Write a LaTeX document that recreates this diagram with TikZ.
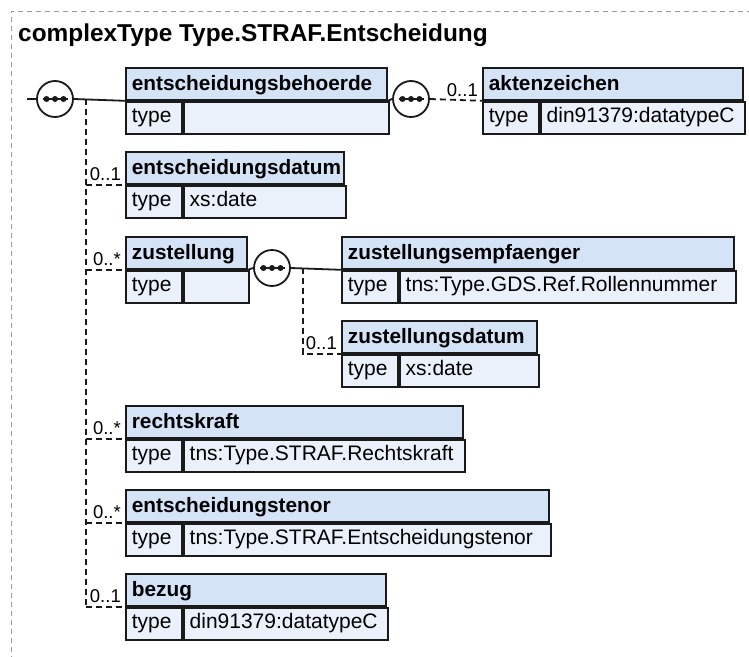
\documentclass[tikz,border=0pt]{standalone}
\usepackage{fontspec}
\setmainfont{Liberation Sans}
\definecolor{hdrblue}{HTML}{D5E3F7}
\definecolor{typblue}{HTML}{EAF1FB}
\definecolor{edge}{HTML}{1A1A1A}
\definecolor{framegray}{HTML}{9A9A9A}
\tikzset{
  hdr/.style={draw=edge, fill=hdrblue, line width=1.8pt, anchor=north west,
    inner xsep=6pt, inner ysep=0pt, text height=17pt, text depth=4pt,
    minimum height=32pt, align=left, font=\fontsize{20.8}{25}\selectfont\bfseries},
  typ/.style={draw=edge, fill=typblue, line width=1.8pt, anchor=north west,
    inner xsep=6pt, inner ysep=0pt, text height=14.5pt, text depth=5.5pt,
    minimum height=32pt, align=left, font=\fontsize{21}{25}\selectfont},
  seq/.style={draw=edge, fill=white, circle, line width=1.8pt, minimum size=36pt, inner sep=0pt},
  conn/.style={draw=edge, line width=1.8pt},
  dconn/.style={draw=edge, line width=1.8pt, dash pattern=on 6pt off 4pt},
  lbl/.style={anchor=base east, inner sep=0pt, font=\fontsize{18.5}{22}\selectfont},
  frameline/.style={draw=framegray, line width=1pt, dash pattern=on 5pt off 4pt},
  titlestyle/.style={anchor=base west, inner sep=0pt, font=\fontsize{24.4}{28}\selectfont\bfseries}
}
\newcommand\elbox[6]{%
  \pgfmathsetmacro\myWa{#4-12}%
  \pgfmathsetmacro\myWb{#4-68}%
  \node[hdr, text width=\myWa pt] (#1) at (#2,#3) {#5};
  \node[typ, text width=44pt] (#1t) at (#1.south west) {type};
  \node[typ, text width=\myWb pt] (#1v) at (#1t.north east) {#6};
}
\newcommand\seqdots[1]{%
  \draw[edge, line width=1.6pt] ([xshift=-12.5pt]#1.center) -- ([xshift=12.5pt]#1.center);
  \foreach \dd in {-8.5,0,8.5} \fill[edge] ([xshift=\dd pt]#1.center) circle (3pt);
}
\begin{document}
\begin{tikzpicture}[x=1pt,y=-1pt]
\useasboundingbox (0,0) rectangle (749,656);
\draw[frameline] (11,670) -- (11,11) -- (760,11);
\node[titlestyle] (title) at (18,41) {complexType Type.STRAF.Entscheidung};

\elbox{b1}{125}{67}{261}{entscheidungsbehoerde}{}
\elbox{b2}{482}{67}{260}{aktenzeichen}{din91379:datatypeC}
\elbox{b3}{125}{151}{218}{entscheidungsdatum}{xs:date}
\elbox{b4}{125}{236}{121}{zustellung}{}
\elbox{b5}{341}{236}{392}{zustellungsempfaenger}{tns:Type.GDS.Ref.Rollennummer}
\elbox{b6}{341}{320}{195}{zustellungsdatum}{xs:date}
\elbox{b7}{125}{405}{337}{rechtskraft}{tns:Type.STRAF.Rechtskraft}
\elbox{b8}{125}{489}{423}{entscheidungstenor}{tns:Type.STRAF.Entscheidungstenor}
\elbox{b9}{125}{573}{260}{bezug}{din91379:datatypeC}

\node[seq] (c0) at (55,99) {};
\node[seq] (c1) at (411,99) {};
\node[seq] (c2) at (272,268) {};

\coordinate (s0) at (27,99);
\coordinate (v0) at (86,99);
\coordinate (v1) at (303,268);

% solid connectors
\draw[conn] (s0) -- (c0.west);
\draw[conn] (c0.east) -- (b1.south west);
\draw[conn] (b1.south east) -- (c1.west);
\draw[conn] (b4.south east) -- (c2.west);
\draw[conn] (c2.east) -- (b5.south west);

% dashed connectors
\draw[dconn] (c1.east) -- (b2.south west);
\draw[dconn] (v0) -- (v0 |- b9.south west);
\foreach \b in {b3,b4,b7,b8,b9}
  \draw[dconn] (v0 |- \b.south west) -- (\b.south west);
\draw[dconn] (v1) -- (v1 |- b6.south west) -- (b6.south west);

\seqdots{c0}
\seqdots{c1}
\seqdots{c2}

% cardinality labels
\node[lbl] (l2) at ([xshift=-4pt,yshift=4pt]b2.south west) {0..1};
\node[lbl] (l3) at ([xshift=-4pt,yshift=4pt]b3.south west) {0..1};
\node[lbl] (l4) at ([xshift=-4pt,yshift=4pt]b4.south west) {0..*};
\node[lbl] (l6) at ([xshift=-4pt,yshift=4pt]b6.south west) {0..1};
\node[lbl] (l7) at ([xshift=-4pt,yshift=4pt]b7.south west) {0..*};
\node[lbl] (l8) at ([xshift=-4pt,yshift=4pt]b8.south west) {0..*};
\node[lbl] (l9) at ([xshift=-4pt,yshift=4pt]b9.south west) {0..1};
\end{tikzpicture}
\end{document}
